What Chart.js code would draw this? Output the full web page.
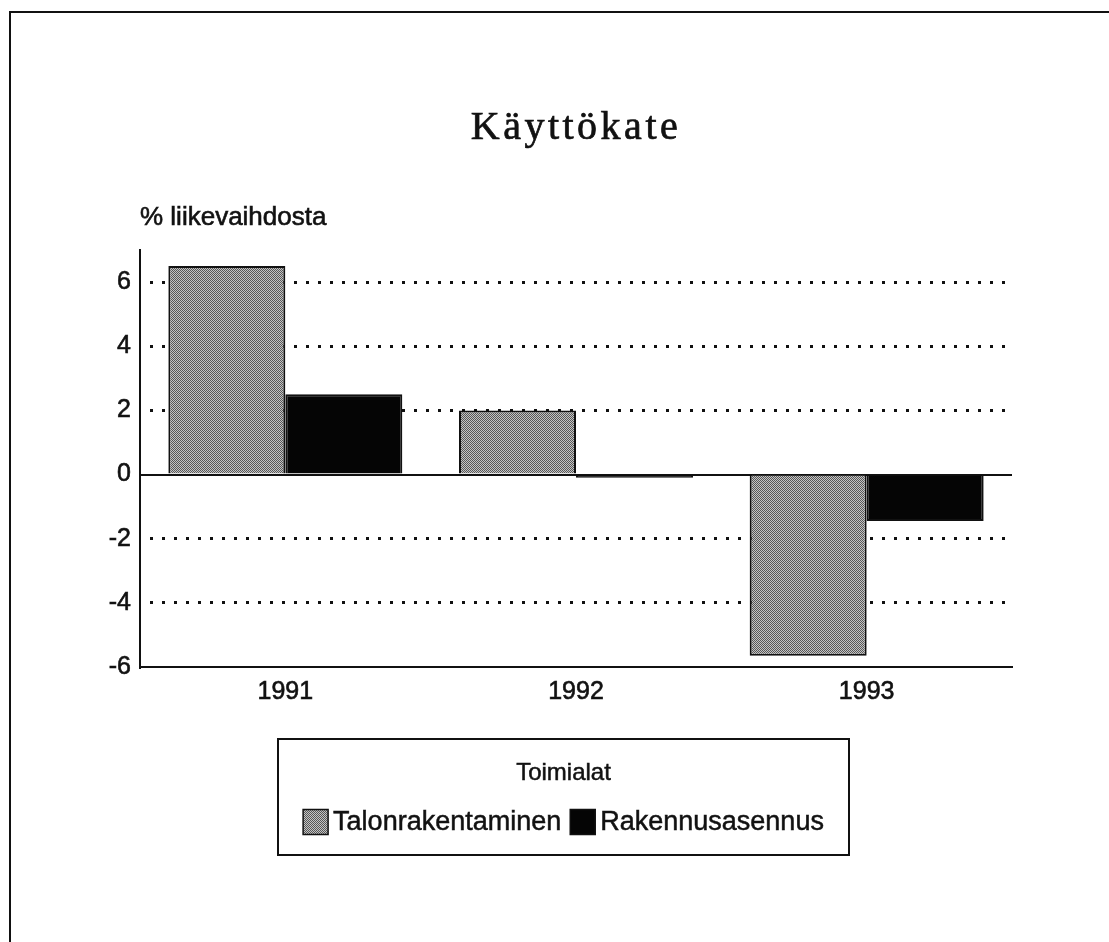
<!DOCTYPE html>
<html>
<head>
<meta charset="utf-8">
<title>Käyttökate</title>
<script src="https://cdn.jsdelivr.net/npm/chart.js@4"></script>
<style>
  html, body { margin: 0; padding: 0; background: #fff; }
  #wrap { width: 1109px; height: 942px; }
</style>
</head>
<body>
<div id="wrap"><canvas id="chart" width="1109" height="942"></canvas></div>
<script>
// data
const years = ["1991", "1992", "1993"];
const seriesNames = ["Talonrakentaminen", "Rakennusasennus"];
const talonrakentaminen = [6.5, 2.0, -5.65];
const rakennusasennus = [2.5, -0.1, -1.45];
const yTicks = [-6, -4, -2, 0, 2, 4, 6];
const yLabel = "% liikevaihdosta";
const chartTitle = "Käyttökate";
const legendTitle = "Toimialat";

const INK = "#111";
const SANS = '"Liberation Sans", Arial, sans-serif';
const SERIF = '"Liberation Serif", "Times New Roman", serif';

// dithered grey like the printed raster
function makeRaster() {
  const c = document.createElement("canvas");
  c.width = 2; c.height = 2;
  const g = c.getContext("2d");
  g.fillStyle = "#c4c4c4"; g.fillRect(0, 0, 2, 2);
  g.fillStyle = "#575757"; g.fillRect(0, 0, 1, 1); g.fillRect(1, 1, 1, 1);
  return g.createPattern(c, "repeat");
}
const grey = makeRaster();

Chart.defaults.font.family = SANS;
Chart.defaults.color = INK;

// text with a hair of stroke, to get the heavier printed look
function inkText(ctx, s, x, y, w) {
  ctx.lineWidth = w;
  ctx.strokeStyle = INK;
  ctx.strokeText(s, x, y);
  ctx.fillText(s, x, y);
}

// frame, title, axis caption and the boxed legend
const decor = {
  id: "decor",
  beforeDraw(chart) {
    const { ctx, chartArea } = chart;
    ctx.save();
    ctx.fillStyle = "#fff";
    ctx.fillRect(0, 0, chart.width, chart.height);
    ctx.strokeStyle = INK;
    ctx.lineWidth = 2;
    ctx.beginPath();
    ctx.moveTo(10, chart.height);
    ctx.lineTo(10, 12);
    ctx.lineTo(chart.width, 12);
    ctx.stroke();

    ctx.fillStyle = INK;
    ctx.font = "40px " + SERIF;
    ctx.letterSpacing = "3.5px";
    ctx.textAlign = "center";
    ctx.textBaseline = "alphabetic";
    inkText(ctx, chartTitle, (chartArea.left + chartArea.right) / 2, 139, 0.7);
    ctx.letterSpacing = "0px";

    ctx.font = "26px " + SANS;
    ctx.textAlign = "left";
    inkText(ctx, yLabel, 140, 225, 0.6);
    ctx.restore();
  },
  afterDraw(chart) {
    const { ctx } = chart;
    const box = { left: 278, top: 739, right: 849, bottom: 855 };
    const cx = (box.left + box.right) / 2;
    ctx.save();
    ctx.strokeStyle = INK;
    ctx.lineWidth = 2;
    ctx.strokeRect(box.left, box.top, box.right - box.left, box.bottom - box.top);

    ctx.fillStyle = INK;
    ctx.textBaseline = "middle";
    ctx.textAlign = "center";
    ctx.font = "24px " + SANS;
    inkText(ctx, legendTitle, cx, 773, 0.5);

    ctx.font = "27px " + SANS;
    ctx.textAlign = "left";
    const sw = 25, gap = 5, sep = 9, y = 822;
    const items = chart.data.datasets.map(ds => ({
      text: ds.label, fill: ds.backgroundColor,
      w: sw + gap + ctx.measureText(ds.label).width
    }));
    const total = items.reduce((s, it) => s + it.w, 0) + sep * (items.length - 1);
    let x = cx - total / 2;
    items.forEach(it => {
      ctx.fillStyle = it.fill;
      ctx.fillRect(x, y - sw / 2, sw, sw);
      ctx.lineWidth = 1.5;
      ctx.strokeStyle = INK;
      ctx.strokeRect(x, y - sw / 2, sw, sw);
      ctx.fillStyle = INK;
      inkText(ctx, it.text, x + sw + gap, y + 1, 0.5);
      x += it.w + sep;
    });
    ctx.restore();
  }
};

new Chart(document.getElementById("chart"), {
  type: "bar",
  data: {
    labels: years,
    datasets: [
      {
        label: seriesNames[0],
        data: talonrakentaminen,
        backgroundColor: grey,
        borderColor: INK,
        borderWidth: 2
      },
      {
        label: seriesNames[1],
        data: rakennusasennus,
        backgroundColor: "#050505",
        borderColor: INK,
        borderWidth: 2
      }
    ]
  },
  options: {
    responsive: false,
    animation: false,
    events: [],
    barPercentage: 1,
    categoryPercentage: 0.805,
    layout: { padding: { top: 250, right: 97, bottom: 215, left: 0 } },
    plugins: {
      legend: { display: false },
      tooltip: { enabled: false },
      title: { display: false }
    },
    scales: {
      x: {
        grid: { display: false, drawTicks: false },
        border: { display: true, color: INK, width: 2 },
        ticks: { font: { size: 25 }, padding: 10, color: INK, textStrokeColor: INK, textStrokeWidth: 0.6 },
        afterFit(scale) { scale.height = 60; }
      },
      y: {
        min: -6,
        max: 7,
        afterBuildTicks(scale) { scale.ticks = yTicks.map(v => ({ value: v })); },
        afterFit(scale) { scale.width = 140; },
        ticks: { font: { size: 25 }, padding: 9, color: INK, textStrokeColor: INK, textStrokeWidth: 0.6 },
        grid: {
          drawTicks: false,
          color: c => (c.tick && c.tick.value === -6 ? "rgba(0,0,0,0)" : INK),
          lineWidth: c => (c.tick && c.tick.value === 0 ? 2 : 3)
        },
        border: {
          display: true,
          color: INK,
          width: 2,
          dash: c => (c.tick && c.tick.value !== 0 ? [3, 9] : []),
          dashOffset: 3
        }
      }
    }
  },
  plugins: [decor]
});
</script>
</body>
</html>
